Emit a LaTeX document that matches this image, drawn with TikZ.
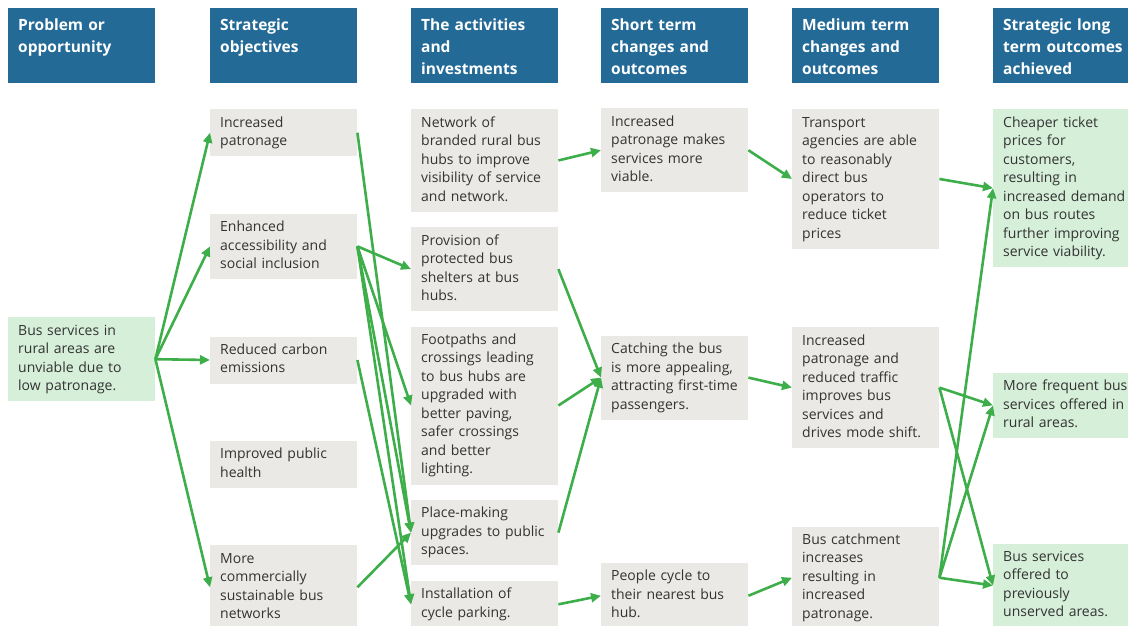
\documentclass[tikz,border=0pt]{standalone}
\usepackage{fontspec}
\setmainfont{Open Sans}
\usetikzlibrary{positioning,arrows.meta}

\definecolor{hdblue}{HTML}{236A97}
\definecolor{boxgrey}{HTML}{EAE9E5}
\definecolor{boxgreen}{HTML}{D6EFD9}
\definecolor{arrgreen}{HTML}{3DAE4A}
\definecolor{txtgrey}{HTML}{333333}

\tikzset{
  hd/.style={anchor=north west, fill=hdblue, text=white, text width=127pt,
    inner xsep=10pt, inner ysep=6pt, text height=16pt, text depth=47pt,
    align=left, font=\bfseries\fontsize{15.5}{22}\selectfont},
  act/.style={fill=boxgrey, text=txtgrey, text width=127pt,
    inner xsep=10pt, inner ysep=5pt, align=left,
    font=\fontsize{14}{18.5}\selectfont,
    execute at begin node=\strut, execute at end node=\strut},
  goal/.style={act, fill=boxgreen},
  link/.style={draw=arrgreen, line width=2.6pt, -{Triangle[length=10pt,width=9pt]}}
}

\begin{document}
\begin{tikzpicture}[x=1pt,y=-1pt]
  \useasboundingbox (0,0) rectangle (1128,625);

  % Headers
  \node[hd] (h1) at (8,8)   {Problem or\\opportunity};
  \node[hd] (h2) at (210,8) {Strategic\\objectives};
  \node[hd] (h3) at (411,8) {The activities\\and\\investments};
  \node[hd] (h4) at (601,8) {Short term\\changes and\\outcomes};
  \node[hd] (h5) at (792,8) {Medium term\\changes and\\outcomes};
  \node[hd] (h6) at (993,8) {Strategic long\\term outcomes\\achieved};

  % Problem
  \node[goal, anchor=north west] (prob) at (8,317) {Bus services in\\rural areas are\\unviable due to\\low patronage.};

  % Objectives
  \node[act, anchor=north west] (inc) at (210,109) {Increased\\patronage};
  \node[act, below=57pt of inc]  (acc)  {Enhanced\\accessibility and\\social inclusion};
  \node[act, below=57pt of acc]  (carb) {Reduced carbon\\emissions};
  \node[act, below=57pt of carb] (hlth) {Improved public\\health};
  \node[act, below=57pt of hlth] (comm) {More\\commercially\\sustainable bus\\networks};

  % Activities
  \node[act, anchor=north west] (net) at (411,109) {Network of\\branded rural bus\\hubs to improve\\visibility of service\\and network.};
  \node[act, below=15pt of net]   (shel)  {Provision of\\protected bus\\shelters at bus\\hubs.};
  \node[act, below=15pt of shel]  (foot)  {Footpaths and\\crossings leading\\to bus hubs are\\upgraded with\\better paving,\\safer crossings\\and better\\lighting.};
  \node[act, below=15pt of foot]  (place) {Place-making\\upgrades to public\\spaces.};
  \node[act, below=15pt of place] (park)  {Installation of\\cycle parking.};

  % Short term
  \node[act, anchor=north west] (viab) at (601,108) {Increased\\patronage makes\\services more\\viable.};
  \node[act, below=143pt of viab]   (appeal) {Catching the bus\\is more appealing,\\attracting first-time\\passengers.};
  \node[act, below=143pt of appeal] (ride)   {People cycle to\\their nearest bus\\hub.};

  % Medium term
  \node[act, anchor=north west] (fare) at (792,109) {Transport\\agencies are able\\to reasonably\\direct bus\\operators to\\reduce ticket\\prices};
  \node[act, below=78pt of fare]  (shift) {Increased\\patronage and\\reduced traffic\\improves bus\\services and\\drives mode shift.};
  \node[act, below=78pt of shift] (catch) {Bus catchment\\increases\\resulting in\\increased\\patronage.};

  % Long term
  \node[goal, anchor=north west] (cheap) at (993,109) {Cheaper ticket\\prices for\\customers,\\resulting in\\increased demand\\on bus routes\\further improving\\service viability.};
  \node[goal, below=105pt of cheap] (freq) {More frequent bus\\services offered in\\rural areas.};
  \node[goal, below=105pt of freq]  (newr) {Bus services\\offered to\\previously\\unserved areas.};

  % Connect the nodes
  \foreach \a/\b in {prob/inc, prob/acc, prob/carb, prob/comm,
      inc/place, acc/shel, acc/foot, acc/place, acc/park, carb/park, comm/place,
      net/viab, shel/appeal, foot/appeal, place/appeal, park/ride,
      viab/fare, appeal/shift, ride/catch,
      fare/cheap, shift/freq, shift/newr, catch/cheap, catch/freq, catch/newr}
    \draw[link] (\a.east) -- (\b.west);
\end{tikzpicture}
\end{document}
